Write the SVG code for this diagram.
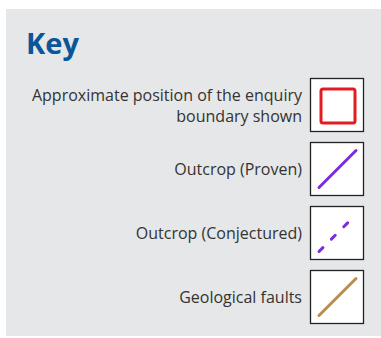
<svg xmlns="http://www.w3.org/2000/svg" width="381" height="338" viewBox="0 0 381 338">
<style>
.lbl{font-family:"Open Sans","Liberation Sans",sans-serif;font-size:16px;fill:#333333;text-anchor:end}
.box{fill:#ffffff;stroke:#222222;stroke-width:1.3}
.sym{fill:none;stroke-width:3;stroke-linecap:round}
</style>
<rect x="0" y="0" width="381" height="338" fill="#ffffff"/>
<rect x="6" y="9" width="375" height="327" fill="#e6e7e8"/>
<text x="26" y="54" font-family="'Open Sans','Liberation Sans',sans-serif" font-weight="bold" font-size="29" fill="#0b5699">Key</text>
<g id="boundary">
<text class="lbl" x="302" y="101">Approximate position of the enquiry</text>
<text class="lbl" x="302" y="122">boundary shown</text>
<rect class="box" x="310.5" y="78.5" width="53" height="53"/>
<rect x="321" y="89" width="34" height="34" rx="2" fill="none" stroke="#e31b23" stroke-width="3"/>
</g>
<g id="proven">
<text class="lbl" x="302" y="175">Outcrop (Proven)</text>
<rect class="box" x="310.5" y="142.5" width="53" height="53"/>
<line class="sym" x1="319" y1="187.5" x2="356" y2="150.5" stroke="#7b2be0"/>
</g>
<g id="conjectured">
<text class="lbl" x="302" y="239">Outcrop (Conjectured)</text>
<rect class="box" x="310.5" y="206.5" width="53" height="53"/>
<line class="sym" x1="319" y1="251.5" x2="356" y2="214.5" stroke="#7b2be0" stroke-dasharray="5.5 12"/>
</g>
<g id="faults">
<text class="lbl" x="302" y="303">Geological faults</text>
<rect class="box" x="310.5" y="270.5" width="53" height="53"/>
<line class="sym" x1="319" y1="315.5" x2="356" y2="278.5" stroke="#b98e4a" stroke-width="2.5"/>
</g>
</svg>
